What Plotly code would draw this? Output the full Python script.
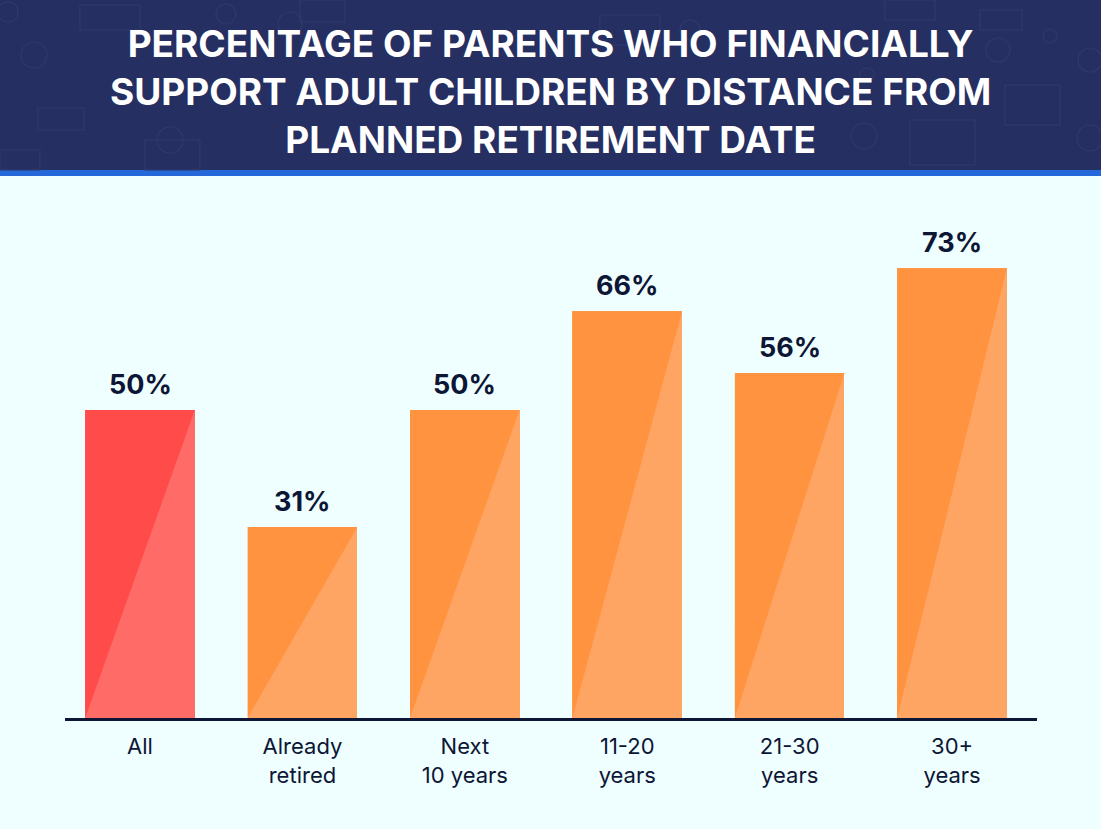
import plotly.graph_objects as go

categories = ["All", "Already<br>retired", "Next<br>10 years", "11-20<br>years", "21-30<br>years", "30+<br>years"]
values = [50, 31, 50, 66, 56, 73]
labels = ["50%", "31%", "50%", "66%", "56%", "73%"]
dark_colors = ["#FF4C4B", "#FF9340", "#FF9340", "#FF9340", "#FF9340", "#FF9340"]
light_colors = ["#FF6B66", "#FFA564", "#FFA564", "#FFA564", "#FFA564", "#FFA564"]
title_text = "PERCENTAGE OF PARENTS WHO FINANCIALLY<br>SUPPORT ADULT CHILDREN BY DISTANCE FROM<br>PLANNED RETIREMENT DATE"

W, H = 1101, 829
ML, MR, MT, MB = 65, 64, 225, 111
BAR_W = 0.675
FONT = "Inter, 'Open Sans', sans-serif"
NAVY = "#0D1635"

xs = list(range(len(values)))
fig = go.Figure()

# light full bars
fig.add_trace(go.Bar(x=xs, y=values, width=BAR_W, marker=dict(color=light_colors, line=dict(width=0)),
                     hoverinfo="skip", showlegend=False))

# darker upper-left triangles
for i, v in enumerate(values):
    x0, x1 = i - BAR_W / 2, i + BAR_W / 2
    fig.add_trace(go.Scatter(x=[x0, x0, x1, x0], y=[0, v, v, 0], mode="lines", fill="toself",
                             fillcolor=dark_colors[i], line=dict(width=0), hoverinfo="skip", showlegend=False))

# value labels
for i, v in enumerate(values):
    fig.add_annotation(x=i, y=v, text=f"<b>{labels[i]}</b>", showarrow=False, yanchor="bottom",
                       yshift=7, font=dict(family=FONT, size=27, color=NAVY))

plot_h = H - MT - MB
plot_w = W - ML - MR

def py(p):
    return (H - MB - p) / plot_h

def px(p):
    return (p - ML) / plot_w

# title
fig.add_annotation(xref="paper", yref="paper", x=px(W / 2), y=py(91), xanchor="center", yanchor="middle",
                   text=f"<b>{title_text}</b>", showarrow=False, align="center",
                   font=dict(family=FONT, size=37, color="white"))

shapes = [
    dict(type="rect", xref="paper", yref="paper", x0=px(0), x1=px(W), y0=py(170), y1=py(0),
         fillcolor="#262F61", line=dict(width=0), layer="below"),
    dict(type="rect", xref="paper", yref="paper", x0=px(0), x1=px(W), y0=py(176), y1=py(170),
         fillcolor="#2468DA", line=dict(width=0), layer="below"),
]

# faint decorative money icons in header
deco = "#2F3A6C"
icons = [(8, 12, 10), (34, 55, 13), (226, 14, 10), (290, 24, 12), (998, 50, 12), (1050, 36, 7),
         (1090, 60, 12), (1090, 138, 13), (867, 75, 7), (864, 136, 13), (170, 140, 13), (690, 30, 10)]
for (cx, cy, r) in icons:
    shapes.append(dict(type="circle", xref="paper", yref="paper", x0=px(cx - r), x1=px(cx + r),
                       y0=py(cy + r), y1=py(cy - r), line=dict(color=deco, width=1.2), layer="below"))
rects = [(80, 5, 140, 30), (38, 108, 84, 130), (145, 140, 200, 170), (300, 0, 345, 22),
         (980, 10, 1022, 30), (1005, 85, 1060, 125), (910, 120, 975, 165), (885, 0, 935, 20),
         (600, 15, 660, 45), (0, 150, 40, 170)]
for (a, b, c, d) in rects:
    shapes.append(dict(type="rect", xref="paper", yref="paper", x0=px(a), x1=px(c), y0=py(d), y1=py(b),
                       line=dict(color=deco, width=1.2), layer="below"))

fig.update_layout(
    width=W, height=H,
    margin=dict(l=ML, r=MR, t=MT, b=MB),
    paper_bgcolor="#EFFEFF", plot_bgcolor="rgba(0,0,0,0)",
    shapes=shapes,
    bargap=0,
    xaxis=dict(range=[-0.462, 5.523], tickmode="array", tickvals=xs, ticktext=categories,
               showgrid=False, zeroline=False, showline=True, linecolor=NAVY, linewidth=3,
               ticks="outside", ticklen=7, tickcolor="rgba(0,0,0,0)",
               tickfont=dict(family=FONT, size=22, color=NAVY), fixedrange=True),
    yaxis=dict(range=[0, 80], visible=False, fixedrange=True),
    showlegend=False,
)

fig.write_html("out.html", config={"displayModeBar": False},
               post_script="document.body.style.margin='0';document.body.style.overflow='hidden';")
